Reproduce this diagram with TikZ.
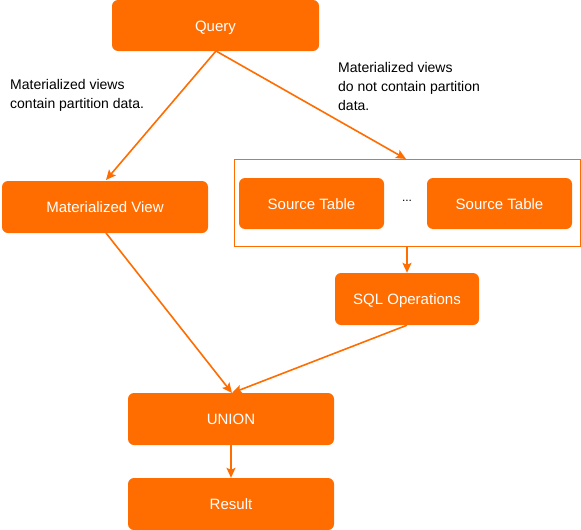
\documentclass[tikz,border=0pt]{standalone}
\usepackage{fontspec}
\setmainfont{Liberation Sans}
\usetikzlibrary{arrows.meta}
\definecolor{org}{RGB}{255,108,0}
\begin{document}
\begin{tikzpicture}[x=1pt,y=-1pt,
  box/.style={fill=org,rounded corners=6pt,text=white,font=\fontsize{15}{17}\selectfont,inner sep=0pt,text height=11pt,text depth=0pt},
  lbl/.style={align=left,anchor=north west,inner sep=0pt,font=\fontsize{14}{19}\selectfont},
  conn/.style={draw=org,line width=1.6pt,-{Stealth[length=10pt,width=9pt,inset=2pt]}}]
\useasboundingbox (0,0) rectangle (581,530);
\node[box,minimum width=207pt,minimum height=51pt] (q) at (215.5,25.5) {Query};
\node[box,minimum width=206pt,minimum height=52pt] (mv) at (105,207) {Materialized View};
\node[draw=org,line width=0.8pt,minimum width=346pt,minimum height=87pt,inner sep=0pt] (cont) at (407,202.5) {};
\node[box,minimum width=145pt,minimum height=51pt] (s1) at (311.5,203.5) {Source Table};
\node[inner sep=0pt,font=\fontsize{12}{13}\selectfont] (dots) at (407,201) {...};
\node[box,minimum width=145pt,minimum height=51pt] (s2) at (499.5,203.5) {Source Table};
\node[box,minimum width=144pt,minimum height=52pt] (sql) at (407,299) {SQL Operations};
\node[box,minimum width=206pt,minimum height=52pt] (un) at (231,419) {UNION};
\node[box,minimum width=206pt,minimum height=52pt] (res) at (231,504) {Result};
\node[lbl] (l1) at (10,79) {Materialized views\\contain partition data.};
\node[lbl] (l2) at (338,62) {Materialized views\\do not contain partition\\data.};
\coordinate (qb) at (216,51);
\coordinate (ut) at (232,393);
\draw[conn] (qb) -- (106,180);
\draw[conn] (qb) -- (406,159);
\draw[conn] (cont.south) -- (sql.north);
\draw[conn] (106,233) -- (ut);
\draw[conn] (sql.south) -- (ut);
\draw[conn] (un.south) -- (res.north);
\end{tikzpicture}
\end{document}
